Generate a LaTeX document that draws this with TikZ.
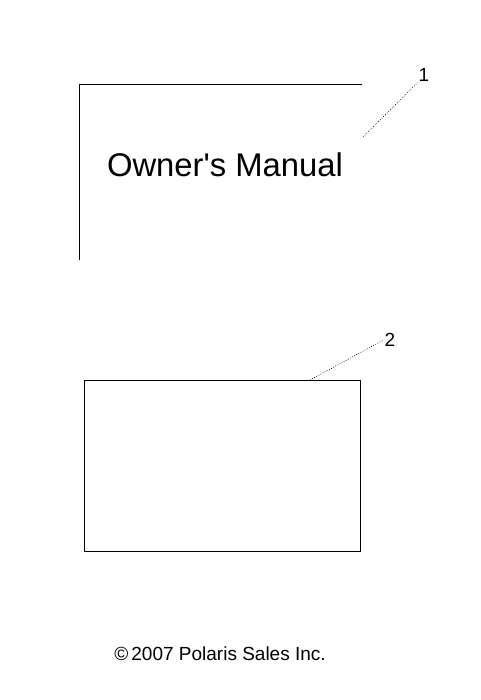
\documentclass[tikz,border=0pt]{standalone}
\usepackage{fontspec}
\setmainfont{Liberation Sans}
\usetikzlibrary{positioning}

\tikzset{
  outline/.style = {draw, line width=0.8pt},
  leader/.style = {draw, line width=0.6pt, dash pattern=on 0.8pt off 1.6pt},
  callout/.style = {font=\fontsize{19}{19}\selectfont, inner sep=1pt}
}

\begin{document}
\begin{tikzpicture}[x=1pt, y=-1pt]
  \useasboundingbox (0,0) rectangle (480,700);

  % owner's manual (item 1)
  \coordinate (m1) at (79,84);
  \coordinate (m2) at (362,84);
  \coordinate (m3) at (79,260);
  \draw [outline] (m3) -- (m1) -- (m2);
  \node (title) [font=\fontsize{32.8}{33}\selectfont, inner sep=0pt] at (225,165) {Owner\textquotesingle s Manual};

  % card (item 2)
  \node (card) [outline, minimum width=276pt, minimum height=171pt, inner sep=0pt] at (222,465.5) {};

  % callouts
  \node (n1) [callout] at (424,75) {1};
  \node (n2) [callout] at (390,340) {2};
  \coordinate (t1) at (363,137);
  \coordinate (t2) at (310,380);
  \path [leader] (t1) -- (n1.south west);
  \path [leader] (t2) -- (n2.west);

  \node (copy) [font=\fontsize{19}{19}\selectfont, inner sep=0pt] at (220,654) {©\,2007 Polaris Sales Inc.};
\end{tikzpicture}
\end{document}
